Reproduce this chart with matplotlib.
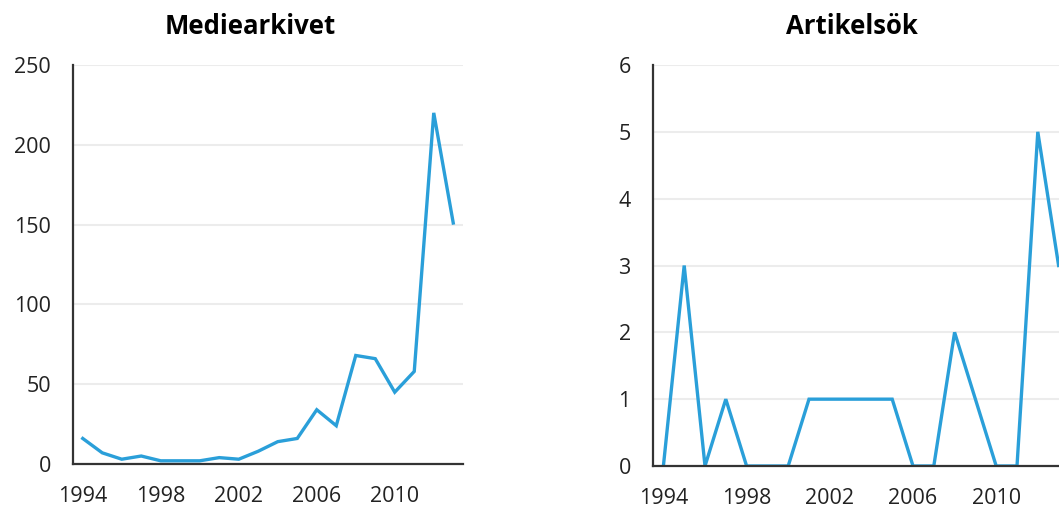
import matplotlib.pyplot as plt

years = list(range(1994, 2014))
mediearkivet = [16, 7, 3, 5, 2, 2, 2, 4, 3, 8, 14, 16, 34, 24, 68, 66, 45, 58, 220, 151]
artikelsok = [0, 3, 0, 1, 0, 0, 0, 1, 1, 1, 1, 1, 0, 0, 2, 1, 0, 0, 5, 3]
year_ticks = [1994, 1998, 2002, 2006, 2010]

line_color = '#2a9fd9'
text_color = '#222222'

plt.rcParams['font.family'] = ['Open Sans', 'DejaVu Sans']

fig = plt.figure(figsize=(10.59, 5.13), dpi=100)
W, H = 1059, 513


def style_axis(ax, ymax, ystep):
    ax.set_xlim(1993.5, 2013.5)
    ax.set_ylim(0, ymax)
    ax.set_xticks(year_ticks)
    ax.set_xticklabels([str(y) for y in year_ticks])
    ax.set_yticks(list(range(0, ymax + 1, ystep)))
    for s in ['top', 'right']:
        ax.spines[s].set_visible(False)
    for s in ['left', 'bottom']:
        ax.spines[s].set_color('#333333')
        ax.spines[s].set_linewidth(1.6)
    ax.grid(axis='y', color='#ececec', linewidth=1.5)
    ax.set_axisbelow(True)
    ax.tick_params(axis='both', length=0, labelsize=15.5, colors=text_color)
    ax.tick_params(axis='y', pad=16)
    ax.tick_params(axis='x', pad=16)


# left panel
ax1 = fig.add_axes([73 / W, 1 - 464 / H, 390 / W, 399 / H])
ax1.plot(years, mediearkivet, color=line_color, lw=2.4, solid_joinstyle='miter')
style_axis(ax1, 250, 50)
fig.text(250 / W, 1 - 27 / H, 'Mediearkivet', ha='center', va='center',
         fontsize=18.5, fontweight='bold', color='black')

# right panel, runs past the edge of the picture
ax2 = fig.add_axes([653 / W, 1 - 466 / H, 416 / W, 401 / H])
ax2.plot(years, artikelsok, color=line_color, lw=2.4, solid_joinstyle='miter')
style_axis(ax2, 6, 1)
fig.text(852 / W, 1 - 27 / H, 'Artikelsök', ha='center', va='center',
         fontsize=18.5, fontweight='bold', color='black')

fig.savefig('out.png', dpi=100)
